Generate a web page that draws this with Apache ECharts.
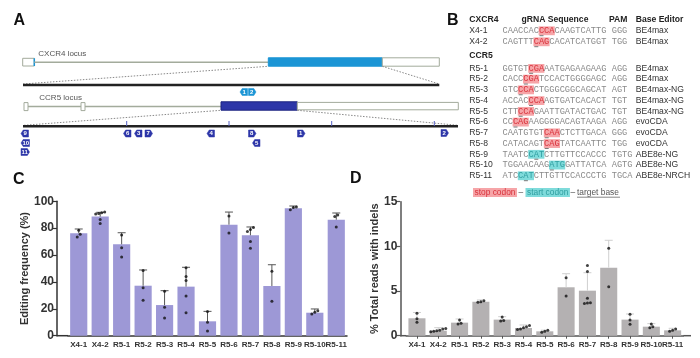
<!DOCTYPE html>
<html><head><meta charset="utf-8">
<script src="https://cdn.jsdelivr.net/npm/echarts@6/dist/echarts.min.js"></script>
<style>html,body{margin:0;padding:0;background:#fff}#c{width:700px;height:358px}</style>
</head><body><div id="c"></div><script>
// ---------- data ----------
const categories = ['X4-1','X4-2','R5-1','R5-2','R5-3','R5-4','R5-5','R5-6','R5-7','R5-8','R5-9','R5-10','R5-11'];
const editMean  = [76.2, 88.6, 68.0, 37.2, 22.8, 36.5, 10.7, 82.6, 74.7, 37.0, 94.8, 17.1, 86.3];
const editUpper = [79.4, 91.8, 76.6, 48.9, 33.5, 50.9, 18.1, 92.0, 80.9, 52.8, 96.5, 19.9, 91.3];
const editPoints = [[78.5,75.5,73.5],[91,91.5,90.5,92,86.5,83.5],[75,65.5,58.6],[48.5,35.7,26.3],[33,21.1,13.2],[50.5,44,41,29.5,17],[18,10,3.5],[89,76.5],[80.5,79,77.5,70,65],[48,25.6],[95.8,95.3,93.8],[18.6,17.4,16.2],[89.8,88.6,80.9]];
const indelMean  = [1.95, 0.56, 1.46, 3.80, 1.80, 0.86, 0.49, 5.42, 5.04, 7.62, 1.80, 1.01, 0.60];
const indelUpper = [2.60, 0.90, 1.87, 4.00, 2.13, 1.20, 0.62, 6.94, 7.05, 10.68, 2.43, 1.35, 0.83];
const indelPoints = [[2.5,1.9,1.5],[0.75,0.8,0.55,0.6,0.45,0.5],[1.75,1.3,1.4],[3.9,3.8,3.75],[2.1,1.65,1.7],[1.15,1.0,0.9,0.75,0.7],[0.6,0.5,0.4],[6.5,4.45],[7.85,7.2,4.2,3.7,3.6,3.65],[9.78,5.49],[2.4,1.75,1.27],[1.3,0.9,1.0],[0.75,0.6,0.5]];
const editTicks = [0,20,40,60,80,100];
const indelTicks = [0,5,10,15];

// panel B table
const guideNames = ['X4-1','X4-2','R5-1','R5-2','R5-3','R5-4','R5-5','R5-6','R5-7','R5-8','R5-9','R5-10','R5-11'];
const guideSeqs = ['CAACCACCCACAAGTCATTG','CAGTTTCAGCACATCATGGT','GGTGTCGAAATGAGAAGAAG','CACCCGATCCACTGGGGAGC','GTCCCACTGGGCGGCAGCAT','ACCACCCAAGTGATCACACT','CTTCCAGAATTGATACTGAC','CCCAGAAGGGGACAGTAAGA','CAATGTGTCAACTCTTGACA','CATACAGTCAGTATCAATTC','TAATCCATCTTGTTCCACCC','TGGAACAAGATGGATTATCA','ATCCATCTTGTTCCACCCTG'];
const codonStart = [7,6,5,4,3,5,3,2,8,8,5,9,3];
const codonType = ['stop','stop','stop','stop','stop','stop','stop','stop','stop','stop','start','start','start'];
const targetOffset = [0,0,0,0,0,0,0,0,0,0,1,0,1];
const pams = ['GGG','TGG','AGG','AGG','AGT','TGT','TGT','AGG','GGG','TGG','TGTG','AGTG','TGCA'];
const editors = ['BE4max','BE4max','BE4max','BE4max','BE4max-NG','BE4max-NG','BE4max-NG','evoCDA','evoCDA','evoCDA','ABE8e-NG','ABE8e-NG','ABE8e-NRCH'];

// panel A guide tags
const tagLabels = ['1','2','9','10','11','6','3','7','4','8','5','1','2'];
const tagLocus  = ['X4','X4','R5','R5','R5','R5','R5','R5','R5','R5','R5','R5','R5'];
const tagDir    = ['L','R','L','L','R','L','L','R','L','R','L','R','R'];

// ---------- helpers ----------
const FONT = '"Liberation Sans", Arial, Helvetica, sans-serif';
const MONO = '"Liberation Mono", "Courier New", monospace';
const G = [];
function txt(x, y, s, o) {
  o = o || {};
  G.push({type:'text', x:x, y:y, z:10, style:Object.assign({text:s, fontFamily:FONT, fontSize:8.6, fill:'#333', align:'left', verticalAlign:'middle'}, o)});
}
function line(x1,y1,x2,y2,st) { G.push({type:'line', z:5, shape:{x1,y1,x2,y2}, style:Object.assign({stroke:'#222', lineWidth:1}, st||{})}); }
function rect(x,y,w,h,st) { G.push({type:'rect', z:5, shape:{x,y,width:w,height:h}, style:Object.assign({fill:'#fff', stroke:'#999', lineWidth:1}, st||{})}); }

// panel letters
txt(13.5, 21, 'A', {fontSize:16, fontWeight:'bold', fill:'#111'});
txt(447, 21, 'B', {fontSize:16, fontWeight:'bold', fill:'#111'});
txt(13, 180, 'C', {fontSize:16, fontWeight:'bold', fill:'#111'});
txt(350, 179, 'D', {fontSize:16, fontWeight:'bold', fill:'#111'});

// ---------- panel A ----------
const locusLine = '#a3ab9c';
const cxBlue = '#1b95d5', ccBlue = '#2d36a8';
txt(38.3, 54, 'CXCR4 locus', {fontSize:8, fill:'#555'});
rect(22.7, 58.3, 11.6, 7.7, {stroke:locusLine});
line(34.3, 58.3, 34.3, 66, {stroke:cxBlue, lineWidth:1.5});
line(34.3, 62.2, 268.3, 62.2, {stroke:locusLine, lineWidth:1.5});
rect(268.3, 57.8, 114, 8.4, {fill:cxBlue, stroke:cxBlue});
rect(382.3, 57.8, 57, 8.4, {stroke:locusLine});
line(23, 84, 268.3, 66.3, {stroke:'#888', lineDash:[1.5,1.5]});
line(382.3, 66.3, 439.3, 84, {stroke:'#888', lineDash:[1.5,1.5]});
line(23, 85, 439.3, 85, {stroke:'#222', lineWidth:2.5});

txt(39.3, 98, 'CCR5 locus', {fontSize:8, fill:'#555'});
line(28, 106.5, 221, 106.5, {stroke:locusLine, lineWidth:1.5});
rect(24, 102.6, 4, 8, {stroke:locusLine});
rect(81, 102.6, 4, 8, {stroke:locusLine});
rect(221, 101.8, 76.3, 8.4, {fill:ccBlue, stroke:'#1d2580'});
rect(297.3, 102.4, 161, 7.4, {stroke:locusLine});
line(24, 125.3, 221, 110.3, {stroke:'#888', lineDash:[1.5,1.5]});
line(297.3, 110.3, 458, 125.3, {stroke:'#888', lineDash:[1.5,1.5]});
line(23, 126.2, 458, 126.2, {stroke:'#222', lineWidth:2.5});
[126.7, 229, 331.7, 434.3].forEach(x => line(x, 121, x, 126, {stroke:'#5560c4', lineWidth:1}));

const tagPos = [[240,88.5],[248.5,88.5],[21,130],[21,139.5],[21,148.5],[123.5,130],[134.5,130],[145,130],[207,130],[248.5,130],[252.5,139.5],[297.5,130],[441,129.5]];
tagLabels.forEach((lab, i) => {
  const [x, y] = tagPos[i];
  const w = lab.length > 1 ? 8.5 : 7.5, h = 7;
  const p = tagDir[i] === 'R'
    ? [[x,y],[x+w-2.2,y],[x+w,y+h/2],[x+w-2.2,y+h],[x,y+h]]
    : [[x+2.2,y],[x+w,y],[x+w,y+h],[x+2.2,y+h],[x,y+h/2]];
  const col = tagLocus[i] === 'X4' ? cxBlue : ccBlue;
  G.push({type:'polygon', z:6, shape:{points:p}, style:{fill:col, stroke:col, lineWidth:0.5}});
  txt(x + w/2 + (tagDir[i]==='R' ? -0.5 : 0.5), y + h/2 + 0.3, lab, {fontSize:6, fontWeight:'bold', fill:'#fff', align:'center'});
});

// ---------- panel B ----------
const colName = 469.3, colSeq = 502.5, cw = 5.2, colEd = 635.7;
txt(colName, 19.3, 'CXCR4', {fontWeight:'bold', fill:'#222'});
txt(555, 19.3, 'gRNA Sequence', {fontWeight:'bold', fill:'#222', align:'center'});
txt(609, 19.3, 'PAM', {fontWeight:'bold', fill:'#222'});
txt(colEd, 19.3, 'Base Editor', {fontWeight:'bold', fill:'#222'});
txt(colName, 56, 'CCR5', {fontWeight:'bold', fill:'#222'});
const rowY = guideNames.map((n, i) => i < 2 ? 30.7 + i * 11 : 68.3 + (i - 2) * 10.74);
const monoSize = cw / 0.6;
guideNames.forEach((name, i) => {
  const y = rowY[i], s = guideSeqs[i], c0 = codonStart[i];
  const stop = codonType[i] === 'stop';
  txt(colName, y, name, {fill:'#333'});
  rect(colSeq + c0 * cw - 0.3, y - 4.3, 3 * cw + 0.6, 8.8, {fill: stop ? '#f6a5a8' : '#7fdbdb', stroke:null, lineWidth:0});
  txt(colSeq, y, s.slice(0, c0), {fontFamily:MONO, fontSize:monoSize, fill:'#8a8a8a'});
  txt(colSeq + c0 * cw, y, s.slice(c0, c0 + 3), {fontFamily:MONO, fontSize:monoSize, fill: stop ? '#d8333c' : '#2f9ea0'});
  txt(colSeq + (c0 + 3) * cw, y, s.slice(c0 + 3), {fontFamily:MONO, fontSize:monoSize, fill:'#8a8a8a'});
  txt(colSeq + 21 * cw, y, pams[i], {fontFamily:MONO, fontSize:monoSize, fill:'#8a8a8a'});
  const tx = colSeq + (c0 + targetOffset[i]) * cw;
  line(tx + 0.6, y + 5, tx + cw - 0.6, y + 5, {stroke:'#777', lineWidth:1});
  txt(colEd, y, editors[i], {fill:'#333'});
});
// legend
txt(473, 192.6, 'stop codon', {fontSize:8.4, fill:'#d8333c', backgroundColor:'#f6a5a8', padding:[1,1.5,0,1.5]});
txt(518.5, 192.6, '–', {fontSize:8.4, fill:'#555'});
txt(525.5, 192.6, 'start codon', {fontSize:8.4, fill:'#2f9ea0', backgroundColor:'#7fdbdb', padding:[1,1.5,0,1.5]});
txt(570.5, 192.6, '–', {fontSize:8.4, fill:'#555'});
txt(577, 192.6, 'target base', {fontSize:8.4, fill:'#555'});
line(577, 197.2, 620, 197.2, {stroke:'#666', lineWidth:0.8});

// ---------- panels C & D ----------
const gridC = {left:68, top:201.3, width:279, height:134.4};
const gridD = {left:406.3, top:201.7, width:277, height:134};
// extend x-axis lines to the (offset) y-axes
line(56.5, gridC.top + gridC.height, gridC.left, gridC.top + gridC.height, {stroke:'#333', lineWidth:1.5});
line(400, gridD.top + gridD.height, gridD.left, gridD.top + gridD.height, {stroke:'#555', lineWidth:1.5});
line(gridD.left + gridD.width, gridD.top + gridD.height, 691, gridD.top + gridD.height, {stroke:'#555', lineWidth:1.5});

function dotData(points, thr) {
  const out = [];
  points.forEach((arr, i) => {
    const sorted = arr.map((v, k) => ({v, k})).sort((a, b) => a.v - b.v);
    let clusters = [];
    sorted.forEach(p => {
      const last = clusters[clusters.length - 1];
      if (last && p.v - last[last.length - 1].v < thr) last.push(p); else clusters.push([p]);
    });
    clusters.forEach(cl => cl.forEach((p, j) => {
      out.push({value:[i, p.v], symbolOffset:[(j - (cl.length - 1) / 2) * 3, 0]});
    }));
  });
  return out;
}
function errItem(color, capHalf) {
  return function (params, api) {
    const a = api.coord([api.value(0), api.value(1)]);
    const b = api.coord([api.value(0), api.value(2)]);
    return {type:'group', children:[
      {type:'line', shape:{x1:a[0], y1:a[1], x2:b[0], y2:b[1]}, style:{stroke:color, lineWidth:1}},
      {type:'line', shape:{x1:b[0]-capHalf, y1:b[1], x2:b[0]+capHalf, y2:b[1]}, style:{stroke:color, lineWidth:1}}
    ]};
  };
}
function xAx(gi, ticks, col) {
  return {type:'category', gridIndex:gi, data:categories,
    axisLine:{lineStyle:{color:col, width:1.5}},
    axisTick:{show:ticks, alignWithLabel:true, length:3, lineStyle:{color:col}},
    axisLabel:{interval:0, fontSize:8, fontWeight:'bold', color:'#333', margin:5, fontFamily:FONT}};
}
function yAx(gi, max, step, off, name, gap, col) {
  return {type:'value', gridIndex:gi, min:0, max:max, interval:step, offset:off,
    axisLine:{show:true, lineStyle:{color:col, width:1.5}},
    axisTick:{show:true, length:4, lineStyle:{color:col, width:1.2}},
    splitLine:{show:false},
    axisLabel:{fontSize:12, fontWeight:'bold', color:'#333', margin:3, fontFamily:FONT},
    name:name, nameLocation:'middle', nameGap:gap,
    nameTextStyle:{fontSize:11, fontWeight:'bold', color:'#333', fontFamily:FONT}};
}

const option = {
  animation:false,
  grid:[gridC, gridD],
  xAxis:[xAx(0, false, '#333'), xAx(1, true, '#555')],
  yAxis:[yAx(0, editTicks[editTicks.length-1], editTicks[1]-editTicks[0], 11, 'Editing frequency (%)', 19, '#333'),
         yAx(1, indelTicks[indelTicks.length-1], indelTicks[1]-indelTicks[0], 6, '% Total reads with indels', 13, '#555')],
  series:[
    {type:'bar', xAxisIndex:0, yAxisIndex:0, data:editMean, barCategoryGap:'20%', itemStyle:{color:'#9d98d6'}, z:2},
    {type:'custom', xAxisIndex:0, yAxisIndex:0, renderItem:errItem('#555', 4), data:categories.map((c,i)=>[i, editMean[i], editUpper[i]]), z:3},
    {type:'scatter', xAxisIndex:0, yAxisIndex:0, data:dotData(editPoints, 2.2), symbolSize:3, itemStyle:{color:'#111'}, z:4},
    {type:'bar', xAxisIndex:1, yAxisIndex:1, data:indelMean, barCategoryGap:'20%', itemStyle:{color:'#b4b1b2'}, z:2},
    {type:'custom', xAxisIndex:1, yAxisIndex:1, renderItem:errItem('#cfcfcf', 4), data:categories.map((c,i)=>[i, indelMean[i], indelUpper[i]]), z:3},
    {type:'scatter', xAxisIndex:1, yAxisIndex:1, data:dotData(indelPoints, 0.22), symbolSize:3, itemStyle:{color:'#111'}, z:4}
  ],
  graphic:G
};
const chart = echarts.init(document.getElementById('c'), null, {renderer:'canvas'});
chart.setOption(option);
</script></body></html>
